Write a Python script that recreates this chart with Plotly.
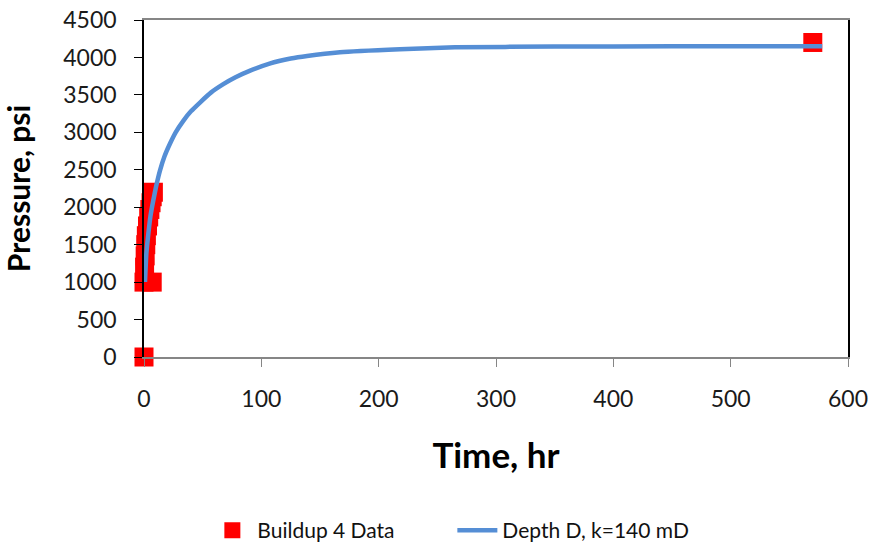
import plotly.graph_objects as go

# Buildup data (time hr, pressure psi)
data_t = [0, 0, 0.5, 1, 1.5, 2, 3, 4, 5, 6, 7, 8, 7, 570]
data_p = [0, 1000, 1200, 1350, 1500, 1620, 1750, 1870, 1970, 2060, 2140, 2200, 1000, 4200]

# Model curve: Depth D, k=140 mD
model_t = [0.85, 2, 3.7, 5.5, 7.9, 10.5, 13.6, 17.5, 22, 27, 33.5, 40, 47.7, 57, 67.6, 78, 90,
           107, 125, 139, 167, 218, 265, 350, 450, 578]
model_p = [1002, 1380, 1646, 1880, 2090, 2290, 2489, 2680, 2844, 3000, 3154, 3280, 3398, 3530, 3643, 3735, 3820,
           3917, 3985, 4020, 4070, 4110, 4135, 4145, 4148, 4150]

x_ticks = [0, 100, 200, 300, 400, 500, 600]
y_ticks = [0, 500, 1000, 1500, 2000, 2500, 3000, 3500, 4000, 4500]

FONT = "Lato"
TICK_COLOR = "#1a1a1a"

fig = go.Figure()
fig.add_trace(go.Scatter(
    x=data_t, y=data_p, mode="markers", name="Buildup 4 Data",
    marker=dict(symbol="square", size=19, color="#FF0000", line=dict(width=0)),
    cliponaxis=False,
))
fig.add_trace(go.Scatter(
    x=model_t, y=model_p, mode="lines", name="Depth D, k=140 mD",
    line=dict(color="#558ED5", width=4.5, shape="spline", smoothing=0.4),
    cliponaxis=False,
))

fig.update_layout(
    width=869, height=548,
    margin=dict(l=144, r=21, t=20, b=191, autoexpand=False),
    paper_bgcolor="white", plot_bgcolor="white",
    font=dict(family=FONT, size=23, color=TICK_COLOR),
    showlegend=True,
    legend=dict(orientation="h", x=0.09, y=-0.515, xanchor="left", yanchor="middle",
                font=dict(family=FONT, size=21, color="#111111"),
                itemwidth=40, entrywidth=190, entrywidthmode="pixels"),
    xaxis=dict(
        range=[0, 600], tickvals=x_ticks, ticktext=[str(v) for v in x_ticks],
        showgrid=False, zeroline=False,
        showline=True, linecolor="#868686", linewidth=1.5, mirror=True,
        ticks="outside", ticklen=8, tickcolor="#868686",
        ticklabelstandoff=13,
        title=dict(text="<b>Time, hr</b>", font=dict(family=FONT, size=35, color="#000000"), standoff=32),
        tickfont=dict(family=FONT, size=23, color=TICK_COLOR),
    ),
    yaxis=dict(
        range=[0, 4500], tickvals=y_ticks, ticktext=[str(v) for v in y_ticks],
        showgrid=False, zeroline=False,
        showline=True, linecolor="#000000", linewidth=1.5, mirror=True,
        ticks="outside", ticklen=8, tickcolor="#000000",
        ticklabelstandoff=13,
        title=dict(text="<b>Pressure, psi</b>", font=dict(family=FONT, size=30, color="#000000"), standoff=26),
        tickfont=dict(family=FONT, size=23, color=TICK_COLOR),
    ),
)

fig.write_html("out.html")
